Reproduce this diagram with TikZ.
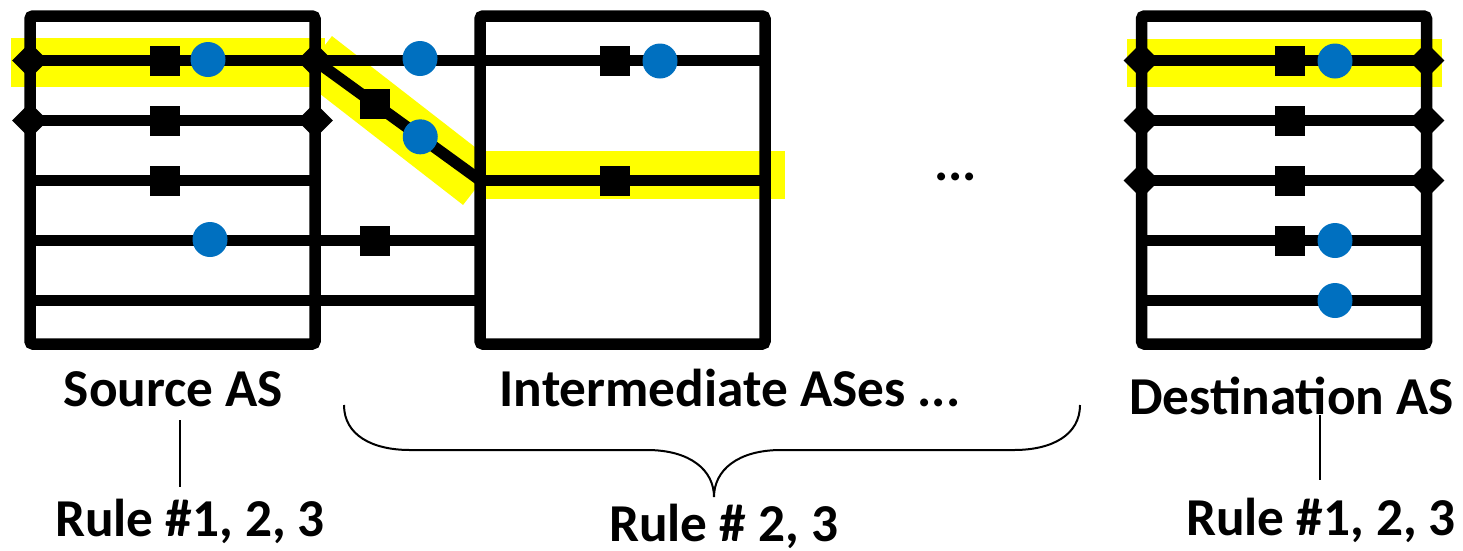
\documentclass[tikz,border=0pt]{standalone}
\usepackage{fontspec}
\setmainfont{Carlito}
\usetikzlibrary{shapes.geometric}
\definecolor{blueC}{HTML}{0070C0}
\definecolor{hlY}{HTML}{FFFF00}
\begin{document}
\begin{tikzpicture}[x=1pt,y=-1pt,
  asbox/.style={minimum width=285pt, minimum height=328pt, inner sep=0pt, outer sep=0pt},
  boxline/.style={line width=11.5pt, rounded corners=3pt},
  rowline/.style={line width=11.5pt},
  hl/.style={draw=hlY, line width=48.5pt},
  sq/.style={fill=black, minimum size=30pt, inner sep=0pt},
  bdot/.style={circle, fill=blueC, minimum size=35pt, inner sep=0pt},
  dm/.style={diamond, fill=black, minimum size=36pt, inner sep=0pt},
  lbl/.style={font=\bfseries\fontsize{53.3}{60}\selectfont, inner sep=0pt, anchor=base},
  thinline/.style={line width=2pt}
]
\useasboundingbox (0,0) rectangle (1463,550);

% boxes (as nodes, outlines drawn later on top)
\path (172.5,180) node[asbox] (src) {};
\path (622.5,180) node[asbox] (mid) {};
\path (1284,180) node[asbox] (dst) {};

% row coordinates
\foreach \i/\y in {1/60.5,2/120.5,3/180.5,4/240.5,5/300.5}{
  \coordinate (sL\i) at (30,\y);
  \coordinate (sR\i) at (315,\y);
  \coordinate (mL\i) at (480.5,\y);
  \coordinate (mR\i) at (764.5,\y);
  \coordinate (dL\i) at (1141.5,\y);
  \coordinate (dR\i) at (1426.5,\y);
}

% yellow highlights
\draw[hl] (11,62.5) -- (325,62.5);
\draw[hl, line width=53pt] (315.7,57) -- (479.3,184);
\draw[hl] (475,175) -- (785,175);
\draw[hl] (1127,62.8) -- (1442,62.8);

% row lines
\foreach \i in {1,...,5}{
  \draw[rowline] (sL\i) -- (sR\i);
  \draw[rowline] (dL\i) -- (dR\i);
}
\draw[rowline] (sR1) -- (mL1);
\draw[rowline] (sR4) -- (mL4);
\draw[rowline] (sR5) -- (mL5);
\draw[rowline] (mL1) -- (mR1);
\draw[rowline] (mL3) -- (mR3);
\draw[rowline] (sR1) -- (mL3)
  node[sq, pos=0.364] (dsq) {}
  node[bdot, pos=0.636] (ddot) {};

% boxes on top
\draw[boxline] (src.north west) rectangle (src.south east);
\draw[boxline] (mid.north west) rectangle (mid.south east);
\draw[boxline] (dst.north west) rectangle (dst.south east);

% diamonds
\foreach \c in {sL1,sR1,sL2,sR2,dL1,dR1,dL2,dR2,dL3,dR3}{
  \node[dm] at (\c) {};
}

% squares
\foreach \i in {1,2,3}{ \node[sq] (ssq\i) at (164.5,60.5+60*\i-60) {}; }
\node[sq] (bsq4) at (375,240.5) {};
\node[sq] (msq1) at (615,60.5) {};
\node[sq] (msq3) at (615,180.5) {};
\foreach \i in {1,2,3,4}{ \node[sq] (dsq\i) at (1290,60.5+60*\i-60) {}; }

% blue dots
\node[bdot] (sdot1) at (208,59.5) {};
\node[bdot] (sdot4) at (210,239.5) {};
\node[bdot] (bdot1) at (420,58.5) {};
\node[bdot] (mdot1) at (660,61) {};
\node[bdot] (ddot1) at (1335,61) {};
\node[bdot] (ddot4) at (1335,240.5) {};
\node[bdot] (ddot5) at (1335,300.5) {};

% labels
\node[lbl] (ellip) at (955.5,180) {...};
\node[lbl] (srcl) at (173.5,406.7) {Source AS};
\node[lbl] (midl) at (730,406.7) {Intermediate ASes ...};
\node[lbl] (dstl) at (1291.5,414) {Destination AS};
\node[lbl] (r1) at (190,536.7) {Rule \#1, 2, 3};
\node[lbl] (r2) at (723.5,541) {Rule \# 2, 3};
\node[lbl] (r3) at (1321,535) {Rule \#1, 2, 3};

% connectors
\coordinate (la) at (179.5,420);
\coordinate (lb) at (179.5,487);
\coordinate (ra) at (1320,415);
\coordinate (rb) at (1320,480);
\draw[thinline] (la) -- (lb);
\draw[thinline] (ra) -- (rb);

% brace
\coordinate (bl) at (344,405);
\coordinate (bt) at (714,497);
\coordinate (br) at (1080,405);
\draw[thinline] (bl) .. controls (344,435) and (372,450) .. (410,450) -- (647,450)
  .. controls (690,450) and (714,470) .. (bt)
  .. controls (714,470) and (738,450) .. (781,450) -- (1014,450)
  .. controls (1052,450) and (1080,435) .. (br);
\end{tikzpicture}
\end{document}
